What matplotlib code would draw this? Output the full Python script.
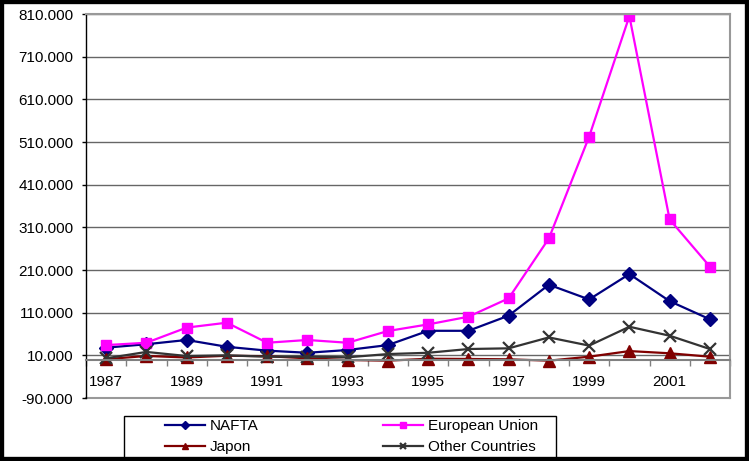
import numpy as np
import matplotlib.pyplot as plt
from matplotlib.patches import Rectangle

plt.rcParams['font.family'] = ['Liberation Sans', 'DejaVu Sans']

# years and series values
years = list(range(1987, 2003))
nafta = [28000, 36000, 46000, 30000, 21000, 16000, 22500, 34000, 67500, 67500,
         103000, 175500, 141000, 200500, 137000, 94500]
eu = [34000, 39500, 75000, 86500, 39500, 46000, 39500, 67000, 82500, 100500,
      143500, 284000, 522500, 805000, 328500, 218000]
japon = [1000, 8500, 5000, 9000, 8000, 3000, -1000, -2500, 2000, 1500,
         700, -2500, 6800, 20000, 14800, 6800]
others = [3000, 18000, 8400, 10000, 6800, 6800, 5400, 13000, 16000, 24800,
          26400, 52000, 32800, 77000, 56000, 24800]

y_ticks = np.arange(-90000, 810001, 100000)

fig = plt.figure(figsize=(7.49, 4.61), dpi=100)
ax = fig.add_axes([86 / 749, 1 - 398 / 461, 644 / 749, 384 / 461])

x = np.arange(len(years))
l1, = ax.plot(x, nafta, color='#000080', lw=1.6, marker='D', ms=7, label='NAFTA')
l2, = ax.plot(x, eu, color='#FF00FF', lw=1.6, marker='s', ms=7, label='European Union')
l3, = ax.plot(x, japon, color='#800000', lw=1.6, marker='^', ms=8, label='Japon')
l4, = ax.plot(x, others, color='#333333', lw=1.6, marker='x', ms=8, mew=1.6,
              label='Other Countries')

ax.set_ylim(-90000, 810000)
ax.set_xlim(-0.5, len(years) - 0.5)

# gridlines at every y tick
for v in y_ticks[1:]:
    ax.axhline(v, color='#666666', lw=1, zorder=0)
ax.axhline(-90000, color='#999999', lw=1.5, clip_on=False, zorder=0)

ax.set_yticks(y_ticks)
ax.set_yticklabels([f"{v:,.0f}".replace(',', '.') for v in y_ticks])
ax.tick_params(axis='y', direction='out', length=3, width=1, pad=6, labelsize=11)

# category axis crossing at zero
ax.spines['bottom'].set_position(('data', 0))
ax.spines['bottom'].set_color('#808080')
ax.spines['bottom'].set_linewidth(1.5)
ax.spines['top'].set_color('#999999')
ax.spines['right'].set_color('#999999')
ax.spines['top'].set_linewidth(1.5)
ax.spines['right'].set_linewidth(1.5)
ax.spines['left'].set_linewidth(1)

ax.set_xticks(x[::2])
ax.set_xticklabels([str(y) for y in years[::2]])
ax.set_xticks(np.arange(-0.5, len(years), 1), minor=True)
ax.tick_params(axis='x', which='major', length=0, pad=11, labelsize=11)
ax.tick_params(axis='x', which='minor', direction='out', length=4, width=1,
               color='#808080')

# legend box and entries
fig.patches.append(Rectangle((124 / 749, 2 / 461), 432 / 749, 414 / 461 - 371 / 461,
                             transform=fig.transFigure, fill=False,
                             edgecolor='black', lw=1))
leg = fig.legend([l1, l3, l2, l4],
                 ['NAFTA', 'Japon', 'European Union', 'Other Countries'],
                 ncol=2, loc='upper left',
                 bbox_to_anchor=(165 / 749, 1 - 419 / 461),
                 frameon=False, fontsize=11, handlelength=2.6, markerscale=0.6,
                 borderpad=0, labelspacing=0.45, handletextpad=0.3,
                 columnspacing=8.2, borderaxespad=0)

# outer frame
fig.patches.append(Rectangle((0, 0), 1, 1, transform=fig.transFigure,
                             fill=False, edgecolor='black', lw=6))

plt.savefig('out.png', dpi=100)
